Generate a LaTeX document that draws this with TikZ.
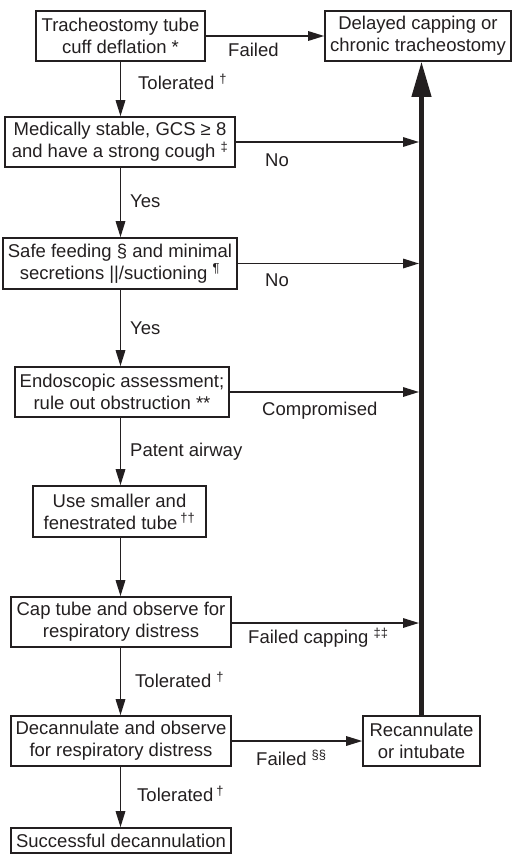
\documentclass[tikz,border=0pt]{standalone}
\usepackage{fontspec}
\setmainfont{Liberation Sans}
\usetikzlibrary{arrows.meta}
\definecolor{ink}{HTML}{231F20}
\begin{document}
\begin{tikzpicture}[x=1pt,y=-1pt,
  every node/.style={text=ink},
  box/.style={draw=ink, line width=1.6pt, inner sep=0pt, align=center,
    font=\fontsize{18.5}{22}\selectfont},
  lbl/.style={anchor=west, inner sep=0pt, text height=13.5pt, text depth=0pt,
    font=\fontsize{18.5}{22}\selectfont},
  arr/.style={draw=ink, line width=1.6pt, -{Triangle[length=16pt,width=9.5pt]}},
  bigarr/.style={draw=ink, line width=4.2pt, -{Triangle[length=35pt,width=19pt]}}]
\useasboundingbox (0,0) rectangle (512,854);
\coordinate (cx) at (120.5,0);
\coordinate (sp) at (419,0);

\node[box, minimum width=169pt, minimum height=50pt] (b1) at (120.5,36) {Tracheostomy tube\\cuff deflation *};
\node[box, minimum width=186pt, minimum height=50pt] (b2) at (418,36) {Delayed capping or\\chronic tracheostomy};
\node[box, minimum width=230pt, minimum height=50pt] (b3) at (120,142) {Medically stable, GCS ≥ 8\\and have a strong cough \textsuperscript{‡}};
\node[box, minimum width=234pt, minimum height=51pt] (b4) at (120,263.5) {Safe feeding § and minimal\\secretions ||/suctioning \textsuperscript{¶}};
\node[box, minimum width=214pt, minimum height=50pt] (b5) at (122,392) {Endoscopic assessment;\\rule out obstruction **};
\node[box, minimum width=173pt, minimum height=51pt] (b6) at (119.5,511.5) {Use smaller and\\fenestrated tube\,\textsuperscript{††}};
\node[box, minimum width=220pt, minimum height=50pt] (b7) at (121,622) {Cap tube and observe for\\respiratory distress};
\node[box, minimum width=220pt, minimum height=50pt] (b8) at (121,741) {Decannulate and observe\\for respiratory distress};
\node[box, minimum width=117pt, minimum height=50pt] (rc) at (421.5,741) {Recannulate\\or intubate};
\node[box, minimum width=220pt, minimum height=25pt] (b9) at (121,840.5) {Successful decannulation};

\draw[arr] (b1.east) -- (b2.west);
\draw[arr] (b1.south -| cx) -- (b3.north -| cx);
\draw[arr] (b3.south -| cx) -- (b4.north -| cx);
\draw[arr] (b4.south -| cx) -- (b5.north -| cx);
\draw[arr] (b5.south -| cx) -- (b6.north -| cx);
\draw[arr] (b6.south -| cx) -- (b7.north -| cx);
\draw[arr] (b7.south -| cx) -- (b8.north -| cx);
\draw[arr] (b8.south -| cx) -- (b9.north -| cx);
\draw[arr] (b3.east) -- (b3.east -| sp);
\draw[arr] (b4.east) -- (b4.east -| sp);
\draw[arr] (b5.east) -- (b5.east -| sp);
\draw[arr] ([yshift=-1pt]b7.east) -- ([yshift=-1pt]b7.east -| sp);
\draw[arr] (b8.east) -- (rc.west);
\draw[bigarr] (rc.north) -- (rc.north |- b2.south);

\node[lbl] (l1) at (228,50) {Failed};
\node[lbl] (l2) at (138,83) {Tolerated \textsuperscript{†}};
\node[lbl] (l3) at (265,160) {No};
\node[lbl] (l4) at (130,201) {Yes};
\node[lbl] (l5) at (265,280) {No};
\node[lbl] (l6) at (130,328) {Yes};
\node[lbl] (l7) at (262,409) {Compromised};
\node[lbl] (l8) at (130,450) {Patent airway};
\node[lbl] (l9) at (248,637) {Failed capping \textsuperscript{‡‡}};
\node[lbl] (l10) at (135,681) {Tolerated \textsuperscript{†}};
\node[lbl] (l11) at (256,759) {Failed \textsuperscript{§§}};
\node[lbl] (l12) at (137,795) {Tolerated\,\textsuperscript{†}};
\end{tikzpicture}
\end{document}
